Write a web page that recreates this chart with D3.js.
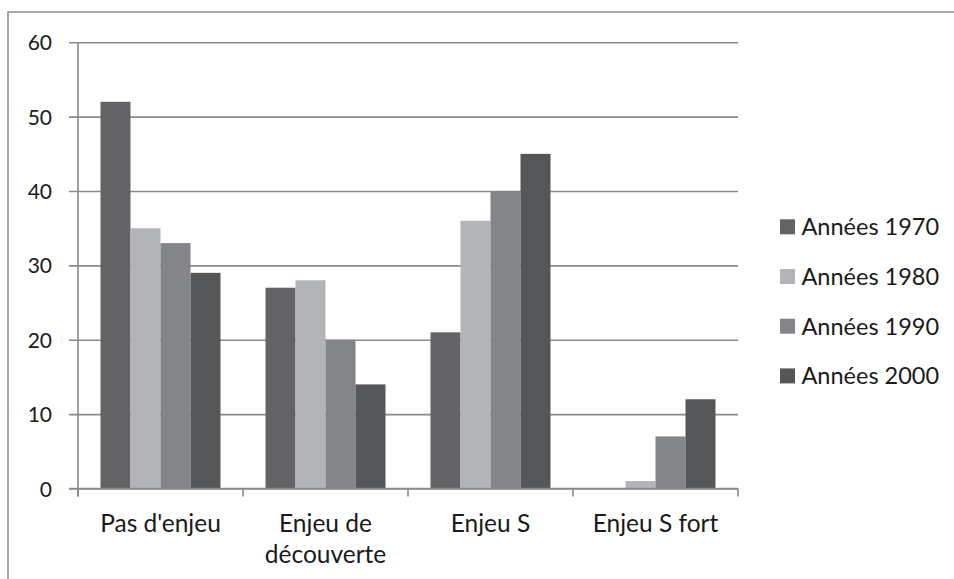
<!DOCTYPE html>
<html>
<head>
<meta charset="utf-8">
<script src="https://cdn.jsdelivr.net/npm/d3@7"></script>
<style>
  html, body { margin: 0; padding: 0; background: #fff; }
  svg { display: block; }
  text { font-family: Lato, "Open Sans", sans-serif; fill: #1a1a1a; }
</style>
</head>
<body>
<svg id="chart" width="954" height="579"></svg>
<script>
// Categories and their wrapped labels
const categories = ["Pas d'enjeu", "Enjeu de découverte", "Enjeu S", "Enjeu S fort"];
const categoryLines = [["Pas d'enjeu"], ["Enjeu de", "découverte"], ["Enjeu S"], ["Enjeu S fort"]];

// Series (one value per category)
const seriesNames = ["Années 1970", "Années 1980", "Années 1990", "Années 2000"];
const s1970 = [52, 27, 21, 0];
const s1980 = [35, 28, 36, 1];
const s1990 = [33, 20, 40, 7];
const s2000 = [29, 14, 45, 12];
const seriesValues = [s1970, s1980, s1990, s2000];
const seriesColors = ["#636365", "#b3b4b8", "#848589", "#555658"];

const yTicks = [0, 10, 20, 30, 40, 50, 60];

const svg = d3.select("#chart");
const plot = { left: 78, right: 738, top: 42.3, bottom: 488.5 };

// Outer chart frame (runs past the right and bottom edges)
svg.append("rect")
  .attr("x", 8).attr("y", 12)
  .attr("width", 1000).attr("height", 1000)
  .attr("fill", "none")
  .attr("stroke", "#8e8e8e")
  .attr("stroke-width", 1.5);

const x = d3.scaleBand()
  .domain(categories)
  .range([plot.left, plot.right])
  .paddingInner(45 / 165)
  .paddingOuter(45 / 330);

const xs = d3.scaleBand()
  .domain(seriesNames)
  .range([0, x.bandwidth()])
  .padding(0);

const y = d3.scaleLinear()
  .domain([0, 60])
  .range([plot.bottom, plot.top]);

// Horizontal gridlines with tick labels
const yAxis = d3.axisLeft(y)
  .tickValues(yTicks)
  .tickSize(-(plot.right - plot.left + 9))
  .tickFormat(d3.format("d"));

const gy = svg.append("g")
  .attr("transform", `translate(${plot.left - 9},0)`)
  .call(yAxis);
gy.select(".domain").remove();
gy.selectAll(".tick line")
  .attr("stroke", "#8a8a8c")
  .attr("stroke-width", 1.6);
gy.selectAll(".tick text")
  .attr("font-size", 21)
  .attr("x", -17)
  .attr("dy", "0.36em")
  .style("font-family", "Lato, sans-serif")
  .attr("fill", "#1a1a1a");

// Vertical axis line
svg.append("line")
  .attr("x1", plot.left).attr("x2", plot.left)
  .attr("y1", plot.top).attr("y2", plot.bottom + 8)
  .attr("stroke", "#8a8a8c").attr("stroke-width", 1.6);

// Bars
const groups = svg.append("g").selectAll("g")
  .data(categories)
  .join("g")
  .attr("transform", d => `translate(${x(d)},0)`);

groups.selectAll("rect")
  .data((d, i) => seriesNames.map((s, j) => ({ series: s, value: seriesValues[j][i], color: seriesColors[j] })))
  .join("rect")
  .attr("x", d => xs(d.series))
  .attr("width", xs.bandwidth())
  .attr("y", d => y(d.value))
  .attr("height", d => y(0) - y(d.value))
  .attr("fill", d => d.color);

// Baseline and category separator ticks
svg.append("line")
  .attr("x1", plot.left - 9).attr("x2", plot.right)
  .attr("y1", y(0)).attr("y2", y(0))
  .attr("stroke", "#8a8a8c").attr("stroke-width", 1.6);

const step = x.step();
const boundaries = d3.range(categories.length + 1).map(i => plot.left + i * step);
svg.append("g").selectAll("line")
  .data(boundaries)
  .join("line")
  .attr("x1", d => d).attr("x2", d => d)
  .attr("y1", y(0)).attr("y2", y(0) + 8)
  .attr("stroke", "#8a8a8c").attr("stroke-width", 1.6);

// Category labels
svg.append("g").selectAll("text")
  .data(categories)
  .join("text")
  .attr("text-anchor", "middle")
  .attr("font-size", 24.5)
  .attr("transform", d => `translate(${x(d) + x.bandwidth() / 2},531.5)`)
  .selectAll("tspan")
  .data((d, i) => categoryLines[i])
  .join("tspan")
  .attr("x", 0)
  .attr("y", (d, i) => i * 31.7)
  .text(d => d);

// Legend
const legend = svg.append("g").selectAll("g")
  .data(seriesNames)
  .join("g")
  .attr("transform", (d, i) => `translate(780,${226.8 + i * 49.7})`);
legend.append("rect")
  .attr("x", 0).attr("y", -7.5)
  .attr("width", 15).attr("height", 15)
  .attr("fill", (d, i) => seriesColors[i]);
legend.append("text")
  .attr("x", 21.5)
  .attr("y", 0)
  .attr("dy", "0.36em")
  .attr("font-size", 23.5)
  .text(d => d);
</script>
</body>
</html>
